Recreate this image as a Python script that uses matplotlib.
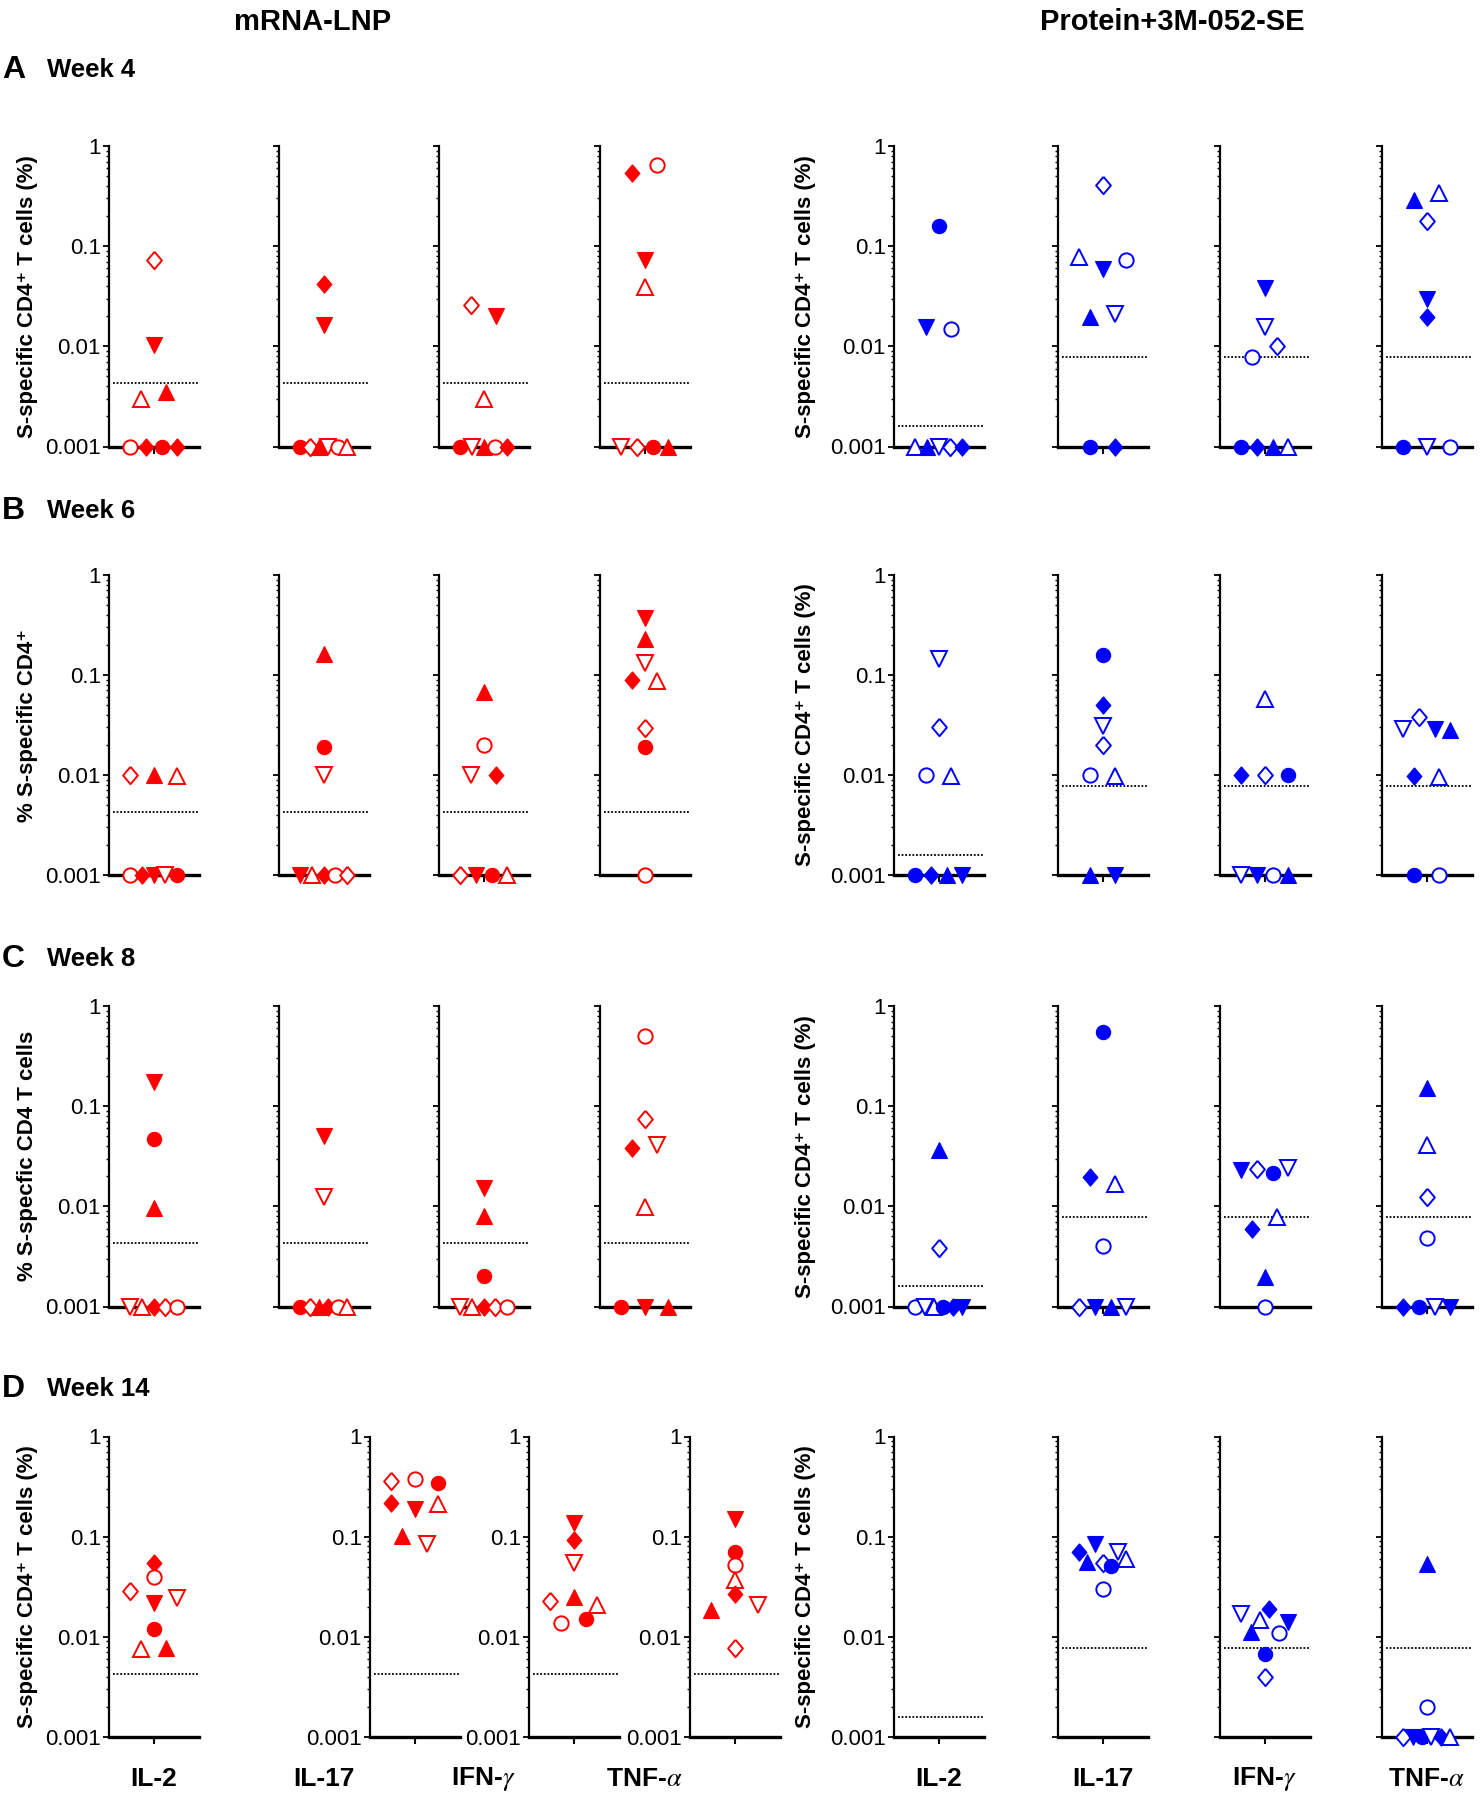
import numpy as np
import matplotlib.pyplot as plt

plt.rcParams['font.family'] = ['Liberation Sans', 'DejaVu Sans']
plt.rcParams['mathtext.fontset'] = 'stix'

# marker codes: upper case = filled, lower case = open
# C/c circle, D/d diamond, U/u triangle up, V/v triangle down
cytokines = ['IL-2', 'IL-17', r'IFN-$\gamma$', r'TNF-$\alpha$']
weeks = ['Week 4', 'Week 6', 'Week 8', 'Week 14']
letters = ['A', 'B', 'C', 'D']

# ---- mRNA-LNP (red) ----
mrna_wk4 = [
    [('d', 0.073), ('V', 0.0104), ('u', 0.0030), ('U', 0.0035), ('c', 0.001), ('D', 0.001), ('C', 0.001), ('D', 0.001)],
    [('D', 0.042), ('V', 0.0164), ('C', 0.001), ('d', 0.001), ('U', 0.001), ('v', 0.001), ('c', 0.001), ('u', 0.001)],
    [('d', 0.026), ('V', 0.020), ('u', 0.0030), ('C', 0.001), ('v', 0.001), ('U', 0.001), ('c', 0.001), ('D', 0.001)],
    [('D', 0.54), ('c', 0.65), ('V', 0.072), ('u', 0.0395), ('v', 0.001), ('d', 0.001), ('C', 0.001), ('U', 0.001)],
]
mrna_wk6 = [
    [('d', 0.010), ('U', 0.010), ('u', 0.0098), ('c', 0.001), ('D', 0.001), ('V', 0.001), ('v', 0.001), ('C', 0.001)],
    [('U', 0.162), ('C', 0.0192), ('v', 0.0099), ('V', 0.001), ('u', 0.001), ('D', 0.001), ('c', 0.001), ('d', 0.001)],
    [('U', 0.068), ('c', 0.020), ('v', 0.0099), ('D', 0.0099), ('d', 0.001), ('V', 0.001), ('C', 0.001), ('u', 0.001)],
    [('V', 0.374), ('U', 0.229), ('v', 0.133), ('D', 0.089), ('u', 0.088), ('d', 0.0297), ('C', 0.0192), ('c', 0.001)],
]
mrna_wk8 = [
    [('V', 0.176), ('C', 0.047), ('U', 0.0096), ('v', 0.001), ('u', 0.001), ('D', 0.001), ('d', 0.001), ('c', 0.001)],
    [('V', 0.050), ('v', 0.0123), ('C', 0.001), ('d', 0.001), ('U', 0.001), ('D', 0.001), ('c', 0.001), ('u', 0.001)],
    [('V', 0.0154), ('U', 0.0080), ('C', 0.0020), ('v', 0.001), ('u', 0.001), ('D', 0.001), ('d', 0.001), ('c', 0.001)],
    [('c', 0.506), ('d', 0.0746), ('D', 0.0386), ('v', 0.041), ('u', 0.0098), ('C', 0.001), ('V', 0.001), ('U', 0.001)],
]
mrna_wk14 = [
    [('D', 0.054), ('c', 0.040), ('d', 0.0286), ('V', 0.0216), ('v', 0.0242), ('C', 0.0121), ('u', 0.0075), ('U', 0.0078)],
    [('d', 0.358), ('c', 0.376), ('C', 0.345), ('D', 0.218), ('V', 0.187), ('u', 0.214), ('U', 0.102), ('v', 0.085)],
    [('V', 0.138), ('D', 0.092), ('v', 0.055), ('d', 0.0229), ('U', 0.025), ('u', 0.021), ('c', 0.0139), ('C', 0.0151)],
    [('V', 0.150), ('C', 0.071), ('c', 0.052), ('u', 0.0366), ('U', 0.0185), ('D', 0.0267), ('v', 0.021), ('d', 0.0078)],
]

# ---- Protein+3M-052-SE (blue) ----
prot_wk4 = [
    [('C', 0.159), ('V', 0.0155), ('c', 0.0149), ('u', 0.001), ('U', 0.001), ('v', 0.001), ('d', 0.001), ('D', 0.001)],
    [('d', 0.408), ('u', 0.0787), ('V', 0.0588), ('c', 0.073), ('U', 0.0198), ('v', 0.021), ('C', 0.001), ('D', 0.001)],
    [('V', 0.038), ('v', 0.0155), ('c', 0.0079), ('d', 0.010), ('C', 0.001), ('D', 0.001), ('U', 0.001), ('u', 0.001)],
    [('U', 0.289), ('u', 0.342), ('d', 0.18), ('V', 0.030), ('D', 0.0198), ('C', 0.001), ('v', 0.001), ('c', 0.001)],
]
prot_wk6 = [
    [('v', 0.143), ('d', 0.030), ('c', 0.0099), ('u', 0.0098), ('C', 0.001), ('D', 0.001), ('U', 0.001), ('V', 0.001)],
    [('C', 0.158), ('D', 0.050), ('v', 0.031), ('d', 0.020), ('c', 0.0099), ('u', 0.0098), ('U', 0.001), ('V', 0.001)],
    [('u', 0.058), ('D', 0.0099), ('d', 0.0099), ('C', 0.0099), ('v', 0.001), ('V', 0.001), ('c', 0.001), ('U', 0.001)],
    [('v', 0.0286), ('d', 0.038), ('V', 0.029), ('U', 0.028), ('D', 0.0097), ('u', 0.0095), ('C', 0.001), ('c', 0.001)],
]
prot_wk8 = [
    [('U', 0.0366), ('d', 0.0038), ('c', 0.001), ('v', 0.001), ('u', 0.001), ('C', 0.001), ('D', 0.001), ('V', 0.001)],
    [('C', 0.555), ('D', 0.0198), ('u', 0.0168), ('c', 0.0040), ('d', 0.001), ('V', 0.001), ('U', 0.001), ('v', 0.001)],
    [('V', 0.0231), ('d', 0.0234), ('C', 0.0217), ('v', 0.024), ('D', 0.0059), ('u', 0.0078), ('U', 0.00196), ('c', 0.001)],
    [('U', 0.151), ('u', 0.041), ('d', 0.0125), ('c', 0.0048), ('D', 0.001), ('C', 0.001), ('v', 0.001), ('V', 0.001)],
]
prot_wk14 = [
    [],
    [('D', 0.0708), ('U', 0.056), ('V', 0.0838), ('d', 0.054), ('C', 0.051), ('v', 0.0708), ('u', 0.0598), ('c', 0.0297)],
    [('v', 0.0169), ('U', 0.0112), ('u', 0.0147), ('D', 0.0188), ('c', 0.011), ('V', 0.0141), ('C', 0.0068), ('d', 0.0040)],
    [('U', 0.053), ('c', 0.0020), ('d', 0.001), ('V', 0.001), ('C', 0.001), ('v', 0.001), ('D', 0.001), ('u', 0.001)],
]

# detection limits (dotted lines)
lod_mrna = [0.0043, 0.0043, 0.0043, 0.0043]
lod_prot = [0.0016, 0.0078, 0.0078, 0.0078]

ylabels_mrna = ['S-specific CD4\u207a T cells (%)', '% S-specific CD4\u207a',
                '% S-specfic CD4 T cells', 'S-specific CD4\u207a T cells (%)']
ylabel_prot = 'S-specific CD4\u207a T cells (%)'

mrna_data = [mrna_wk4, mrna_wk6, mrna_wk8, mrna_wk14]
prot_data = [prot_wk4, prot_wk6, prot_wk8, prot_wk14]

RED = '#ff0000'
BLUE = '#0000ff'
DIAMOND = [(0, 1), (0.85, 0), (0, -1), (-0.85, 0), (0, 1)]
shapes = {'C': 'o', 'D': 'diamond', 'U': '^', 'V': 'v'}
sizes = {'o': 10.3, 'diamond': 12.5, '^': 11.2, 'v': 11.2}

W, H = 1484, 1800
fig = plt.figure(figsize=(W / 100, H / 100), dpi=100)

# layout in pixels
rows_y = [(146, 446.5), (575, 875), (1006, 1306.5), (1436.5, 1737)]
red_left = [109, 279, 439, 600]
red_left_d = [109, 370, 529, 690]
blue_left = [894, 1058, 1220, 1382]
pw = 89.5
letter_y = [70, 511, 959, 1389]


def swarm(pts, thr=0.125, span=1.05, max_step=0.55):
    xs = np.zeros(len(pts))
    if not pts:
        return xs
    order = sorted(range(len(pts)), key=lambda i: -pts[i][1])
    groups, cur = [], [order[0]]
    for i in order[1:]:
        if np.log10(pts[cur[-1]][1]) - np.log10(pts[i][1]) < thr:
            cur.append(i)
        else:
            groups.append(cur)
            cur = [i]
    groups.append(cur)
    for g in groups:
        g = sorted(g)
        n = len(g)
        if n > 1:
            step = min(max_step, span / (n - 1))
            for k, i in enumerate(g):
                xs[i] = (k - (n - 1) / 2) * step
    return xs


def panel(left, top, bottom, pts, lod, color, ticklabels, ylabel=None, lab_x=-0.8):
    ax = fig.add_axes([left / W, 1 - bottom / H, pw / W, (bottom - top) / H])
    ax.set_yscale('log')
    ax.set_ylim(0.001, 1)
    ax.set_xlim(-1, 1)
    for s in ['top', 'right']:
        ax.spines[s].set_visible(False)
    ax.spines['left'].set_linewidth(1.6)
    ax.spines['bottom'].set_linewidth(2.4)
    ax.set_yticks([1, 0.1, 0.01, 0.001])
    ax.set_yticklabels(['1', '0.1', '0.01', '0.001'], fontsize=16,
                       family=['Liberation Sans Narrow', 'Liberation Sans'])
    ax.tick_params(axis='y', which='major', length=4, width=1.3, pad=2, labelleft=ticklabels)
    ax.tick_params(axis='y', which='minor', length=2, width=1.0)
    ax.set_xticks([0])
    ax.set_xticklabels([])
    ax.tick_params(axis='x', length=5, width=1.5)
    ax.axhline(lod, xmin=0.04, xmax=1, color='black', ls=(0, (1, 1)), lw=1.3)
    xs = swarm(pts)
    for (k, v), x in zip(pts, xs):
        m = shapes[k.upper()]
        filled = k.isupper()
        ax.plot(x, v, ls='none', marker=DIAMOND if m == 'diamond' else m, ms=sizes[m],
                mfc=color if filled else 'white', mec=color, mew=0.8 if filled else 1.4,
                clip_on=False, zorder=5)
    if ylabel:
        ax.set_ylabel(ylabel, fontsize=16, fontweight='bold')
        ax.yaxis.set_label_coords(lab_x, 0.5)
    return ax


for r in range(4):
    top, bottom = rows_y[r]
    lefts = red_left_d if r == 3 else red_left
    for c in range(4):
        panel(lefts[c], top, bottom, mrna_data[r][c], lod_mrna[c], RED,
              ticklabels=(c == 0 or r == 3),
              ylabel=ylabels_mrna[r] if c == 0 else None, lab_x=-0.79)
        panel(blue_left[c], top, bottom, prot_data[r][c], lod_prot[c], BLUE,
              ticklabels=(c == 0),
              ylabel=ylabel_prot if c == 0 else None, lab_x=-0.87)
    fig.text(2 / W, 1 - letter_y[r] / H, letters[r], fontsize=23, fontweight='bold', va='center')
    fig.text(47 / W, 1 - letter_y[r] / H, weeks[r], fontsize=18.5, fontweight='bold', va='center')

fig.text(313 / W, 1 - 22 / H, 'mRNA-LNP', fontsize=21, fontweight='bold', ha='center', va='center')
fig.text(1172 / W, 1 - 22 / H, 'Protein+3M-052-SE', fontsize=21, fontweight='bold', ha='center', va='center')

for c in range(4):
    for lft in (red_left[c], blue_left[c]):
        fig.text((lft + pw / 2) / W, 1 - 1779 / H, cytokines[c], fontsize=19,
                 fontweight='bold', ha='center', va='center')

fig.savefig('out.png', dpi=100, facecolor='white')
